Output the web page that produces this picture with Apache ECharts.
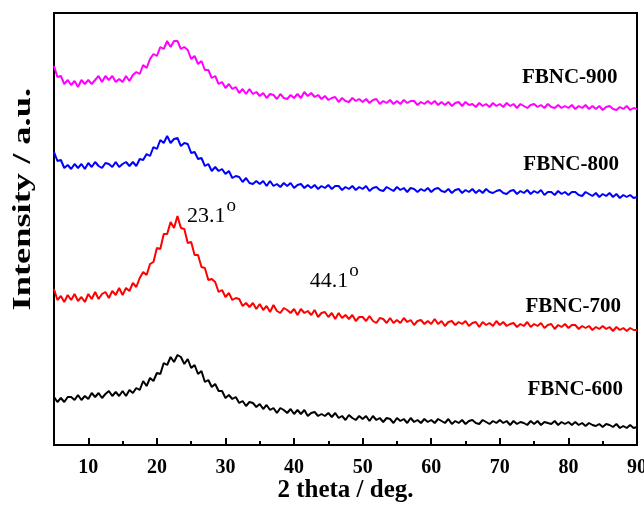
<!DOCTYPE html>
<html>
<head>
<meta charset="utf-8">
<script src="https://cdn.jsdelivr.net/npm/echarts@6/dist/echarts.min.js"></script>
<style>
  html, body { margin: 0; padding: 0; background: #fff; }
  #chart { width: 644px; height: 505px; }
</style>
</head>
<body>
<div id="chart"></div>
<script>
// 2 theta sampled from 5 to 90 deg every 0.5 deg
const thetaStart = 5;
const thetaStep = 0.5;

const majorTicks = [10, 20, 30, 40, 50, 60, 70, 80, 90];
const minorTicks = [15, 25, 35, 45, 55, 65, 75, 85];

const seriesNames = ['FBNC-600', 'FBNC-700', 'FBNC-800', 'FBNC-900'];
const seriesColors = ['#000000', '#ff0000', '#0000ff', '#ff00ff'];

// intensities (a.u., curves are stacked with offsets as in the figure)
const fbnc600 = [
  48, 43, 47, 43, 48, 48, 45, 50, 45, 49,
  46, 52, 48, 52, 47, 51, 54, 49, 53, 49,
  54, 49, 55, 52, 57, 55, 64, 59, 67, 64,
  72, 71, 82, 80, 88, 83, 90, 88, 81, 86,
  77, 80, 71, 74, 63, 65, 58, 61, 54, 54,
  47, 50, 46, 48, 42, 44, 39, 43, 42, 38,
  41, 36, 40, 35, 37, 32, 37, 35, 32, 36,
  31, 35, 31, 35, 29, 32, 33, 29, 31, 29,
  32, 28, 32, 27, 29, 25, 30, 27, 25, 29,
  26, 29, 24, 29, 25, 27, 23, 27, 26, 22,
  27, 24, 26, 22, 27, 23, 25, 22, 26, 23,
  25, 22, 26, 24, 22, 26, 21, 24, 22, 25,
  21, 24, 25, 22, 21, 25, 23, 21, 24, 22,
  25, 22, 24, 20, 24, 21, 23, 22, 20, 24,
  21, 24, 20, 23, 22, 21, 24, 20, 23, 21,
  23, 20, 23, 20, 22, 19, 22, 20, 19, 21,
  18, 21, 20, 18, 21, 17, 19, 17, 20, 17,
  18
];
const fbnc700 = [
  156, 145, 149, 143, 150, 145, 151, 144, 148, 143,
  151, 146, 153, 146, 151, 153, 147, 154, 150, 157,
  150, 157, 154, 162, 158, 167, 173, 170, 181, 183,
  197, 196, 211, 211, 223, 217, 229, 217, 216, 202,
  203, 190, 190, 178, 177, 165, 166, 163, 153, 155,
  148, 152, 145, 147, 146, 139, 142, 138, 142, 136,
  141, 135, 139, 133, 140, 134, 132, 137, 135, 132,
  136, 130, 136, 132, 134, 130, 135, 128, 132, 133,
  128, 132, 126, 132, 127, 130, 126, 130, 124, 128,
  128, 124, 129, 124, 122, 127, 126, 122, 127, 122,
  125, 122, 127, 123, 125, 120, 124, 125, 121, 124,
  121, 126, 121, 124, 119, 123, 124, 120, 123, 121,
  124, 119, 122, 123, 118, 123, 120, 122, 119, 124,
  120, 123, 119, 121, 122, 118, 121, 119, 123, 118,
  121, 119, 122, 117, 120, 121, 116, 120, 118, 121,
  117, 120, 120, 116, 119, 117, 119, 115, 118, 116,
  119, 116, 118, 114, 118, 115, 117, 114, 117, 115,
  115
];
const fbnc800 = [
  293, 284, 285, 277, 280, 276, 281, 277, 281, 276,
  282, 278, 283, 279, 277, 282, 281, 278, 283, 278,
  281, 283, 279, 283, 279, 286, 285, 291, 289, 298,
  296, 305, 302, 309, 302, 306, 307, 299, 302, 301,
  292, 293, 286, 287, 279, 281, 274, 278, 274, 276,
  271, 274, 267, 269, 268, 263, 267, 262, 261, 264,
  261, 264, 259, 264, 259, 261, 258, 262, 259, 262,
  257, 260, 261, 257, 260, 257, 260, 256, 259, 257,
  260, 256, 259, 259, 255, 258, 256, 259, 255, 258,
  256, 259, 254, 257, 258, 255, 254, 258, 256, 254,
  258, 255, 257, 253, 257, 256, 253, 256, 254, 257,
  253, 256, 257, 254, 253, 256, 252, 255, 256, 252,
  255, 253, 256, 252, 255, 252, 256, 253, 252, 254,
  255, 252, 251, 254, 255, 251, 254, 252, 255, 251,
  254, 252, 255, 250, 253, 253, 250, 254, 251, 253,
  250, 253, 253, 250, 249, 253, 251, 249, 252, 248,
  251, 249, 252, 248, 251, 247, 250, 248, 250, 247,
  248
];
const fbnc900 = [
  379, 368, 369, 361, 365, 360, 364, 358, 365, 361,
  365, 361, 365, 369, 363, 369, 365, 369, 363, 366,
  363, 369, 364, 370, 373, 371, 380, 377, 386, 391,
  389, 398, 396, 404, 398, 404, 404, 396, 398, 395,
  386, 389, 381, 384, 375, 375, 367, 369, 361, 363,
  357, 361, 356, 358, 352, 356, 351, 356, 351, 353,
  349, 352, 347, 351, 350, 346, 351, 347, 346, 350,
  347, 351, 347, 353, 349, 352, 348, 350, 346, 349,
  345, 347, 348, 343, 347, 344, 343, 347, 344, 346,
  343, 346, 342, 345, 346, 341, 344, 342, 345, 341,
  344, 341, 345, 342, 344, 344, 340, 343, 341, 344,
  341, 344, 340, 343, 340, 343, 339, 342, 343, 339,
  343, 340, 341, 338, 342, 339, 341, 338, 342, 339,
  341, 338, 342, 339, 341, 337, 341, 339, 337, 340,
  341, 338, 340, 337, 341, 338, 337, 340, 337, 339,
  337, 340, 336, 339, 337, 340, 336, 339, 336, 339,
  335, 338, 339, 336, 335, 338, 336, 339, 335, 337,
  336
];
const seriesData = [fbnc600, fbnc700, fbnc800, fbnc900];

// where the sample names sit (2 theta, intensity)
const nameCoords = [[81.0, 55], [80.7, 138], [80.4, 280], [80.2, 367]];

// peak annotations on FBNC-700
const peakLabels = ['23.1', '44.1'];
const peakCoords = [[24.4, 229], [42.3, 164]];

const serif = '"Liberation Serif", "Times New Roman", serif';

const chart = echarts.init(document.getElementById('chart'));

const toPairs = (values) => values.map((v, i) => [thetaStart + i * thetaStep, v]);

const series = seriesData.map((values, idx) => {
  const marks = [{
    coord: nameCoords[idx],
    name: seriesNames[idx],
    label: {
      formatter: '{b}',
      fontFamily: serif,
      fontWeight: 'bold',
      fontSize: 21,
      color: '#000',
    },
  }];
  if (idx === 1) {
    peakLabels.forEach((txt, k) => {
      marks.push({
        coord: peakCoords[k],
        name: txt,
        label: {
          formatter: `{n|${txt}}{s|o}`,
          align: 'left',
          verticalAlign: 'middle',
          rich: {
            n: { fontFamily: serif, fontSize: 22, color: '#000' },
            s: { fontFamily: serif, fontSize: 19, color: '#000', padding: [0, 0, 20, 1] },
          },
        },
      });
    });
  }
  return {
    name: seriesNames[idx],
    type: 'line',
    data: toPairs(values),
    showSymbol: false,
    animation: false,
    lineStyle: { color: seriesColors[idx], width: 2 },
    itemStyle: { color: seriesColors[idx] },
    markPoint: {
      symbol: 'circle',
      symbolSize: 1,
      silent: true,
      animation: false,
      itemStyle: { color: 'transparent' },
      label: { show: true, position: 'inside' },
      data: marks,
    },
  };
});

chart.setOption({
  animation: false,
  grid: {
    left: 54,
    right: 7,
    top: 13,
    bottom: 60,
    outerBoundsMode: 'none',
    show: true,
    borderColor: '#000',
    borderWidth: 2,
    backgroundColor: 'transparent',
  },
  xAxis: [
    {
      type: 'value',
      min: 5,
      max: 90,
      position: 'bottom',
      axisLine: { show: false },
      axisTick: {
        show: true,
        inside: true,
        length: 7,
        customValues: majorTicks,
        lineStyle: { color: '#000', width: 2 },
      },
      axisLabel: {
        customValues: majorTicks,
        color: '#000',
        fontFamily: serif,
        fontWeight: 'bold',
        fontSize: 20,
        margin: 13,
      },
      splitLine: { show: false },
      name: '2 theta / deg.',
      nameLocation: 'middle',
      nameGap: 33,
      nameMoveOverlap: false,
      nameTextStyle: {
        color: '#000',
        fontFamily: serif,
        fontWeight: 'bold',
        fontSize: 25,
      },
    },
    {
      type: 'value',
      min: 5,
      max: 90,
      position: 'bottom',
      axisLine: { show: false },
      axisTick: {
        show: true,
        inside: true,
        length: 4,
        customValues: minorTicks,
        lineStyle: { color: '#000', width: 2 },
      },
      axisLabel: { show: false },
      splitLine: { show: false },
    },
  ],
  yAxis: {
    type: 'value',
    min: 0,
    max: 432,
    show: false,
  },
  graphic: [
    {
      type: 'text',
      left: 10,
      top: 88,
      rotation: Math.PI / 2,
      scaleX: 1.4,
      style: {
        text: 'Intensity / a.u.',
        fontFamily: serif,
        fontWeight: 'bold',
        fontSize: 26,
        fill: '#000',
        align: 'center',
        verticalAlign: 'middle',
      },
    },
  ],
  series,
});
</script>
</body>
</html>
